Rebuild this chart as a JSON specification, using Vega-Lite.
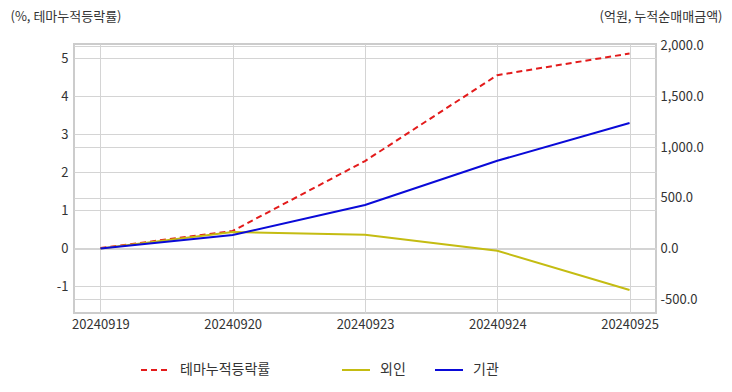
{
  "$schema": "https://vega.github.io/schema/vega-lite/v6.json",
  "width": 582,
  "height": 269,
  "autosize": {"type": "none"},
  "padding": {"left": 74, "top": 44, "right": 76, "bottom": 79},
  "background": "white",
  "config": {
    "font": "Noto Sans CJK KR",
    "view": {"stroke": "#cccccc", "strokeWidth": 2},
    "axis": {"labelColor": "#333333", "titleColor": "#333333", "labelFontSize": 13, "gridColor": "#d4d4d4", "gridWidth": 1},
    "legend": {"labelColor": "#333333", "labelFontSize": 14, "symbolType": "stroke", "symbolSize": 784, "symbolStrokeWidth": 2, "padding": 0, "orient": "none", "direction": "horizontal", "title": null}
  },
  "datasets": {
    "theme": [
      {"date": "20240919", "series": "테마누적등락률", "value": 0},
      {"date": "20240920", "series": "테마누적등락률", "value": 0.45},
      {"date": "20240923", "series": "테마누적등락률", "value": 2.29},
      {"date": "20240924", "series": "테마누적등락률", "value": 4.55},
      {"date": "20240925", "series": "테마누적등락률", "value": 5.12}
    ],
    "flows": [
      {"date": "20240919", "series": "외인", "value": 0},
      {"date": "20240920", "series": "외인", "value": 163},
      {"date": "20240923", "series": "외인", "value": 136},
      {"date": "20240924", "series": "외인", "value": -22},
      {"date": "20240925", "series": "외인", "value": -409},
      {"date": "20240919", "series": "기관", "value": 0},
      {"date": "20240920", "series": "기관", "value": 133},
      {"date": "20240923", "series": "기관", "value": 429},
      {"date": "20240924", "series": "기관", "value": 865},
      {"date": "20240925", "series": "기관", "value": 1236}
    ]
  },
  "layer": [
    {
      "data": {"name": "theme"},
      "mark": {"type": "line", "strokeWidth": 2, "strokeDash": [6, 4]},
      "encoding": {
        "x": {"field": "date", "type": "ordinal", "scale": {"type": "point", "padding": 0.2},
          "axis": {"labelAngle": 0, "grid": true, "ticks": false, "domain": false, "title": null, "labelPadding": 5}},
        "y": {"field": "value", "type": "quantitative", "scale": {"domain": [-1.71, 5.37], "nice": false, "zero": false},
          "axis": {"orient": "left", "values": [-1, 0, 1, 2, 3, 4, 5], "labelExpr": "replace(datum.label, '\u2212', '-')", "grid": true, "domain": false, "ticks": false, "labelPadding": 6,
            "title": "(%, 테마누적등락률)", "titleAngle": 0, "titleX": -64, "titleY": -28, "titleAlign": "left", "titleBaseline": "middle", "titleFontWeight": "normal", "titleFontSize": 13}},
        "color": {"field": "series", "type": "nominal", "scale": {"domain": ["테마누적등락률"], "range": ["#e31b1b"]},
          "legend": {"legendX": 66, "legendY": 311, "symbolDash": [6, 4], "labelOffset": 10}}
      }
    },
    {
      "data": {"name": "flows"},
      "mark": {"type": "line", "strokeWidth": 2},
      "encoding": {
        "x": {"field": "date", "type": "ordinal"},
        "y": {"field": "value", "type": "quantitative", "scale": {"domain": [-635, 2015], "nice": false, "zero": false},
          "axis": {"orient": "right", "values": [-500, 0, 500, 1000, 1500, 2000], "format": ",.1f", "labelExpr": "replace(datum.label, '\u2212', '-')", "grid": true, "domain": false, "ticks": false, "labelPadding": 4,
            "title": "(억원, 누적순매매금액)", "titleAngle": 0, "titleX": 66, "titleY": -28, "titleAlign": "right", "titleBaseline": "middle", "titleFontWeight": "normal", "titleFontSize": 13}},
        "color": {"field": "series", "type": "nominal", "scale": {"domain": ["외인", "기관"], "range": ["#c4bc12", "#0a0ad8"]},
          "legend": {"legendX": 267, "legendY": 311, "labelOffset": 9, "columnPadding": 25}}
      }
    }
  ],
  "resolve": {"scale": {"y": "independent", "color": "independent"}, "axis": {"y": "independent"}}
}
